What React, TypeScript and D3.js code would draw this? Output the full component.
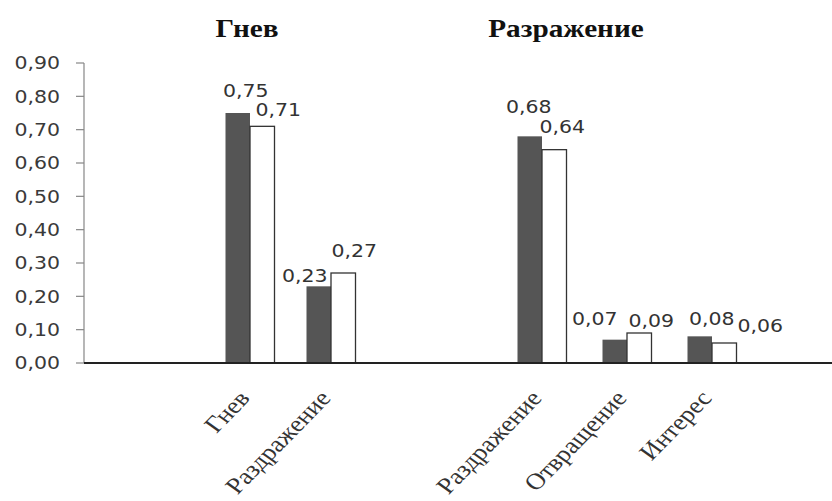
import React from "react";
import * as d3 from "d3";

// ---- data ----
const panelTitles = ["Гнев", "Разражение"];
const categoriesLeft = ["Гнев", "Раздражение"];
const categoriesRight = ["Раздражение", "Отвращение", "Интерес"];
const darkLeft = [0.75, 0.23];
const whiteLeft = [0.71, 0.27];
const darkRight = [0.68, 0.07, 0.08];
const whiteRight = [0.64, 0.09, 0.06];
const yTicks = [0, 0.1, 0.2, 0.3, 0.4, 0.5, 0.6, 0.7, 0.8, 0.9];

// label nudges (dx from bar centre, gap above bar top) — layout only
const nudgeDarkLeft = [[8, 16], [-14, 4]];
const nudgeWhiteLeft = [[16, 10], [11, 16]];
const nudgeDarkRight = [[-1, 23], [-20, 15], [12, 11]];
const nudgeWhiteRight = [[8, 17], [12, 6], [36, 11]];

const W = 832;
const H = 501;
const SX = 1.17; // horizontal stretch of the original picture
const fmt = (v: number) => d3.format(".2f")(v).replace(".", ",");

export default function App() {
  const y = d3.scaleLinear().domain([0, 0.9]).range([363, 63]);
  const xL = d3.scalePoint<string>().domain(categoriesLeft).range([250, 331]);
  const xR = d3.scalePoint<string>().domain(categoriesRight).range([542, 712]);
  const bw = 24.5;
  const axisX = 84;
  const numFont = "'DejaVu Sans', Verdana, sans-serif";
  const serif = "'Liberation Serif', 'Times New Roman', serif";

  const panels = [
    { cats: categoriesLeft, x: xL, dark: darkLeft, white: whiteLeft, nd: nudgeDarkLeft, nw: nudgeWhiteLeft },
    { cats: categoriesRight, x: xR, dark: darkRight, white: whiteRight, nd: nudgeDarkRight, nw: nudgeWhiteRight },
  ];
  const titleX = [247, 566];

  return (
    <svg width={W} height={H} style={{ position: "absolute", left: 0, top: 0, background: "#fff" }}>
      {/* y axis */}
      <line x1={axisX} x2={axisX} y1={y(0.9)} y2={y(0)} stroke="#868686" strokeWidth={1.2} />
      {yTicks.map((t) => (
        <g key={t}>
          <line x1={axisX - 8} x2={axisX} y1={y(t)} y2={y(t)} stroke="#868686" strokeWidth={1.2} />
          <text
            transform={`translate(60,${y(t)}) scale(${SX},1)`}
            textAnchor="end"
            dominantBaseline="central"
            fontFamily={numFont}
            fontSize={17.5}
            fill="#3a3a3a"
          >
            {fmt(t)}
          </text>
        </g>
      ))}

      {panels.map((p, pi) => (
        <g key={pi}>
          {p.cats.map((c, i) => {
            const cx = p.x(c) as number;
            return (
              <g key={c}>
                <rect x={cx - bw} y={y(p.dark[i])} width={bw} height={y(0) - y(p.dark[i])} fill="#555555" />
                <rect
                  x={cx}
                  y={y(p.white[i])}
                  width={bw}
                  height={y(0) - y(p.white[i])}
                  fill="#ffffff"
                  stroke="#333"
                  strokeWidth={1.3}
                />
                <text
                  transform={`translate(${cx - bw / 2 + p.nd[i][0]},${y(p.dark[i]) - p.nd[i][1]}) scale(${SX},1)`}
                  textAnchor="middle"
                  fontFamily={numFont}
                  fontSize={17.5}
                  fill="#333"
                >
                  {fmt(p.dark[i])}
                </text>
                <text
                  transform={`translate(${cx + bw / 2 + p.nw[i][0]},${y(p.white[i]) - p.nw[i][1]}) scale(${SX},1)`}
                  textAnchor="middle"
                  fontFamily={numFont}
                  fontSize={17.5}
                  fill="#333"
                >
                  {fmt(p.white[i])}
                </text>
                <text
                  transform={`translate(${cx + 1},${y(0) + 36}) scale(${SX},1) rotate(-50)`}
                  textAnchor="end"
                  fontFamily={serif}
                  fontSize={23}
                  fill="#333"
                >
                  {c}
                </text>
              </g>
            );
          })}
          <text
            transform={`translate(${titleX[pi]},37) scale(${SX},1)`}
            textAnchor="middle"
            fontFamily={serif}
            fontWeight="bold"
            fontSize={25}
            fill="#111"
          >
            {panelTitles[pi]}
          </text>
        </g>
      ))}

      {/* x axis */}
      <line x1={axisX} x2={W} y1={y(0)} y2={y(0)} stroke="#222" strokeWidth={1.8} />
    </svg>
  );
}
